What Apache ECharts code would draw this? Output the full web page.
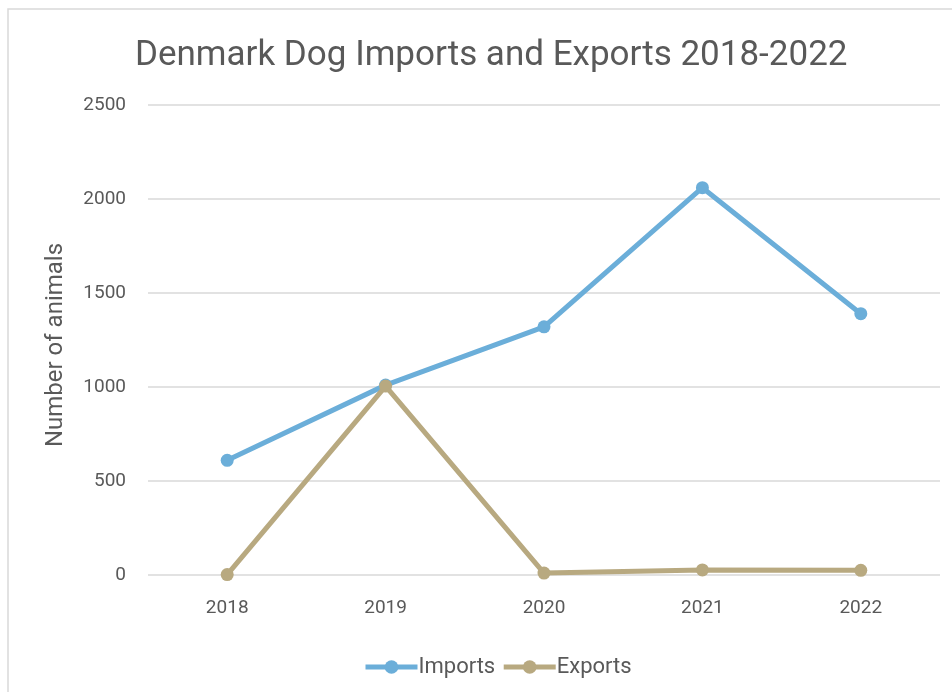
<!DOCTYPE html>
<html>
<head>
<meta charset="utf-8">
<script src="https://cdn.jsdelivr.net/npm/echarts@6/dist/echarts.min.js"></script>
<style>
  html, body { margin: 0; padding: 0; background: #fff; }
  #main { width: 952px; height: 692px; }
</style>
</head>
<body>
<div id="main"></div>
<script>
const years = ['2018', '2019', '2020', '2021', '2022'];
const imports = [610, 1010, 1320, 2060, 1390];
const exports = [2, 1005, 10, 27, 25];
const yTicks = [0, 500, 1000, 1500, 2000, 2500];

const textColor = '#595959';
const font = 'Roboto';

const chart = echarts.init(document.getElementById('main'));
chart.setOption({
  animation: false,
  color: ['#6baed9', '#b8a980'],
  title: {
    text: 'Denmark Dog Imports and Exports 2018-2022',
    left: 130,
    top: 34,
    textStyle: { color: textColor, fontFamily: font, fontWeight: 'normal', fontSize: 35 }
  },
  graphic: [{
    type: 'rect',
    shape: { x: 8, y: 9, width: 1000, height: 1000 },
    style: { fill: 'none', stroke: '#d9d9d9', lineWidth: 1.5 },
    silent: true
  }],
  legend: {
    bottom: 9,
    left: 358,
    itemWidth: 52,
    itemHeight: 17,
    itemGap: 6,
    lineStyle: { width: 5 },
    textStyle: { color: textColor, fontFamily: font, fontSize: 22, padding: [0, 0, 0, -4] },
    data: ['Imports', 'Exports']
  },
  grid: { left: 148, right: 12, top: 105, bottom: 117, containLabel: false },
  xAxis: {
    type: 'category',
    data: years,
    axisLine: { show: false },
    axisTick: { show: false },
    axisLabel: { color: textColor, fontFamily: font, fontSize: 19, margin: 24 }
  },
  yAxis: {
    type: 'value',
    min: yTicks[0],
    max: yTicks[yTicks.length - 1],
    interval: 500,
    name: 'Number of animals',
    nameLocation: 'middle',
    nameGap: 80,
    nameTextStyle: { color: textColor, fontFamily: font, fontSize: 24, padding: [0, 0, 0, -10] },
    axisLabel: { color: textColor, fontFamily: font, fontSize: 19, margin: 22, formatter: v => String(v) },
    splitLine: { lineStyle: { color: '#d9d9d9', width: 1.5 } }
  },
  series: [
    {
      name: 'Imports',
      type: 'line',
      data: imports,
      symbol: 'circle',
      symbolSize: 13,
      lineStyle: { width: 5 }
    },
    {
      name: 'Exports',
      type: 'line',
      data: exports,
      symbol: 'circle',
      symbolSize: 13,
      lineStyle: { width: 5 }
    }
  ]
});
</script>
</body>
</html>
